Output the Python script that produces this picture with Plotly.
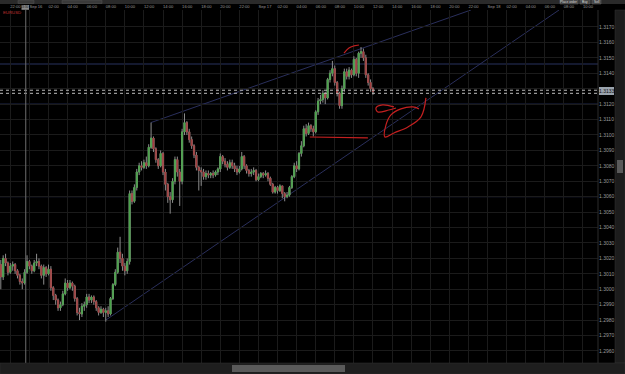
import pandas as pd
import plotly.graph_objects as go

# ---------------- data (15-minute candles) ----------------
start_time = "2013-09-15 21:00"
first_open = 1.3016
closes = [1.3008,1.3020,1.3017,1.3011,1.3015,1.3016,1.3012,1.3009,1.3005,1.3004,
          1.3011,1.3018,1.3015,1.3012,1.3017,1.3018,1.3015,1.3009,1.3014,1.3010,
          1.3013,1.3001,1.2996,1.2993,1.2988,1.2990,1.2997,1.3004,1.3001,1.3004,
          1.3002,1.2994,1.2985,1.2984,1.2989,1.2990,1.2995,1.2993,1.2995,1.2992,
          1.2988,1.2985,1.2987,1.2985,1.2986,1.2984,1.2994,1.3003,1.3011,1.3024,
          1.3020,1.3015,1.3012,1.3018,1.3062,1.3057,1.3066,1.3076,1.3080,1.3079,
          1.3082,1.3080,1.3092,1.3098,1.3091,1.3084,1.3080,1.3088,1.3076,1.3068,
          1.3060,1.3058,1.3070,1.3084,1.3076,1.3070,1.3102,1.3108,1.3102,1.3097,
          1.3093,1.3087,1.3079,1.3077,1.3076,1.3073,1.3075,1.3074,1.3075,1.3074,
          1.3076,1.3078,1.3086,1.3083,1.3081,1.3079,1.3082,1.3080,1.3078,1.3076,
          1.3078,1.3086,1.3080,1.3077,1.3075,1.3076,1.3077,1.3071,1.3073,1.3075,
          1.3074,1.3075,1.3072,1.3068,1.3063,1.3066,1.3064,1.3067,1.3062,1.3060,
          1.3061,1.3066,1.3073,1.3080,1.3078,1.3088,1.3093,1.3104,1.3101,1.3106,
          1.3104,1.3102,1.3115,1.3122,1.3123,1.3127,1.3124,1.3136,1.3140,1.3143,
          1.3134,1.3127,1.3119,1.3130,1.3141,1.3138,1.3142,1.3139,1.3149,1.3140,
          1.3153,1.3154,1.3150,1.3139,1.3134,1.3130,1.3128]
highs = [1.3019,1.3022,1.3023,1.3018,1.3017,1.3018,1.3017,1.3013,1.3010,1.3007,
         1.3013,1.3022,1.3019,1.3016,1.3019,1.3023,1.3020,1.3016,1.3016,1.3015,
         1.3016,1.3015,1.3002,1.2997,1.2994,1.2992,1.2999,1.3007,1.3006,1.3006,
         1.3005,1.3003,1.2995,1.2988,1.2991,1.2992,1.2997,1.2997,1.2996,1.2996,
         1.2993,1.2989,1.2989,1.2988,1.2988,1.2989,1.2995,1.3004,1.3013,1.3027,
         1.3034,1.3023,1.3017,1.3020,1.3064,1.3064,1.3068,1.3078,1.3082,1.3083,
         1.3084,1.3086,1.3094,1.3108,1.3099,1.3092,1.3085,1.3090,1.3089,1.3078,
         1.3069,1.3063,1.3072,1.3086,1.3086,1.3078,1.3104,1.3114,1.3109,1.3104,
         1.3099,1.3094,1.3089,1.3080,1.3079,1.3078,1.3077,1.3077,1.3076,1.3077,
         1.3077,1.3079,1.3088,1.3087,1.3085,1.3083,1.3084,1.3084,1.3082,1.3080,
         1.3080,1.3089,1.3087,1.3081,1.3078,1.3078,1.3079,1.3078,1.3075,1.3076,
         1.3076,1.3077,1.3076,1.3073,1.3069,1.3067,1.3067,1.3068,1.3067,1.3063,
         1.3063,1.3067,1.3074,1.3082,1.3083,1.3089,1.3096,1.3106,1.3107,1.3108,
         1.3107,1.3106,1.3116,1.3124,1.3126,1.3129,1.3128,1.3137,1.3142,1.3148,
         1.3145,1.3135,1.3128,1.3132,1.3143,1.3143,1.3144,1.3143,1.3151,1.3150,
         1.3154,1.3157,1.3156,1.3152,1.3140,1.3136,1.3131]
lows = [1.3000,1.3006,1.3015,1.3009,1.3010,1.3012,1.3010,1.3007,1.3003,1.3000,
        1.3003,1.3010,1.3013,1.3010,1.3011,1.3015,1.3013,1.3007,1.3003,1.3008,
        1.3009,1.2999,1.2993,1.2990,1.2986,1.2986,1.2989,1.2996,1.2999,1.3000,
        1.2999,1.2992,1.2983,1.2980,1.2982,1.2986,1.2988,1.2991,1.2991,1.2990,
        1.2986,1.2983,1.2984,1.2982,1.2979,1.2982,1.2983,1.2993,1.3002,1.3010,
        1.3017,1.3012,1.3009,1.3010,1.3016,1.3055,1.3056,1.3064,1.3074,1.3077,
        1.3078,1.3078,1.3079,1.3091,1.3089,1.3082,1.3078,1.3079,1.3074,1.3064,
        1.3056,1.3049,1.3056,1.3068,1.3073,1.3054,1.3068,1.3100,1.3100,1.3095,
        1.3091,1.3085,1.3077,1.3064,1.3067,1.3071,1.3071,1.3072,1.3072,1.3072,
        1.3073,1.3074,1.3076,1.3081,1.3079,1.3077,1.3078,1.3078,1.3076,1.3074,
        1.3075,1.3077,1.3078,1.3075,1.3073,1.3073,1.3074,1.3070,1.3070,1.3072,
        1.3072,1.3073,1.3070,1.3067,1.3062,1.3062,1.3062,1.3063,1.3059,1.3057,
        1.3059,1.3060,1.3065,1.3072,1.3076,1.3077,1.3086,1.3092,1.3099,1.3100,
        1.3102,1.3099,1.3101,1.3113,1.3120,1.3121,1.3120,1.3123,1.3134,1.3138,
        1.3132,1.3125,1.3117,1.3117,1.3128,1.3136,1.3136,1.3137,1.3138,1.3138,
        1.3137,1.3150,1.3148,1.3137,1.3132,1.3128,1.3126]

# time axis ticks
time_ticks = pd.date_range("2013-09-15 22:00", "2013-09-18 10:00", freq="2h")
time_labels = ["22:00","Sep 16","02:00","04:00","06:00","08:00","10:00","12:00","14:00",
               "16:00","18:00","20:00","22:00","Sep 17","02:00","04:00","06:00","08:00",
               "10:00","12:00","14:00","16:00","18:00","20:00","22:00","Sep 18","02:00",
               "04:00","06:00","08:00","10:00"]
price_ticks = [1.2960,1.2970,1.2980,1.2990,1.3000,1.3010,1.3020,1.3030,1.3040,1.3050,
               1.3060,1.3070,1.3080,1.3090,1.3100,1.3110,1.3120,1.3130,1.3140,1.3150,
               1.3160,1.3170]
current_price_label = "1.3133"
crosshair_time = "2013-09-15 23:37"
crosshair_label = "23:30"

# drawn objects (chart drawings)
upper_trend = (["2013-09-16 12:43", "2013-09-17 22:16"], [1.3108, 1.3181])
lower_trend = (["2013-09-16 08:00", "2013-09-18 07:30"], [1.2980, 1.3181])
h_lines = [1.3146, 1.3120, 1.3060]
bid_ask = [1.3129, 1.3127]
red_arc = (["2013-09-17 08:58","2013-09-17 09:29","2013-09-17 10:00","2013-09-17 10:32"],
           [1.31531,1.31564,1.31577,1.31583])
red_level = (["2013-09-17 05:23","2013-09-17 11:28"], [1.30987,1.30981])
red_loop = (["2013-09-17 14:12","2013-09-17 13:00","2013-09-17 12:19","2013-09-17 12:31",
             "2013-09-17 13:40","2013-09-17 14:25"],
            [1.31182,1.31195,1.31175,1.31149,1.31162,1.31175])
red_swoosh = (["2013-09-17 17:33","2013-09-17 17:02","2013-09-17 15:40","2013-09-17 14:12",
               "2013-09-17 13:15","2013-09-17 13:22","2013-09-17 13:53","2013-09-17 14:56",
               "2013-09-17 16:11","2013-09-17 16:49"],
              [1.3124,1.31117,1.31052,1.31013,1.30987,1.31065,1.3113,1.31169,1.31182,1.31169])

# ---------------- build ----------------
times = pd.date_range(start_time, periods=len(closes), freq="15min")
opens = [first_open] + closes[:-1]
highs = [max(h, o, c) for h, o, c in zip(highs, opens, closes)]
lows = [min(l, o, c) for l, o, c in zip(lows, opens, closes)]
body_hi = [max(o, c) for o, c in zip(opens, closes)]
body_lo = [min(o, c) for o, c in zip(opens, closes)]
# the highlighted current-price box hides the tick label beneath it
price_labels = ["" if abs(p - 1.3130) < 1e-9 else "%.4f" % p for p in price_ticks]

GREEN = "#4aa64a"
RED = "#a53f3f"
WICK = "#8c8c8c"

fig = go.Figure()
fig.add_trace(go.Candlestick(
    x=times, open=opens, high=highs, low=lows, close=closes,
    increasing=dict(line=dict(color=WICK, width=1), fillcolor=WICK),
    decreasing=dict(line=dict(color=WICK, width=1), fillcolor=WICK),
    hoverinfo="skip", showlegend=False))
fig.add_trace(go.Candlestick(
    x=times, open=opens, high=body_hi, low=body_lo, close=closes,
    increasing=dict(line=dict(color=GREEN, width=0.6), fillcolor=GREEN),
    decreasing=dict(line=dict(color=RED, width=0.6), fillcolor=RED),
    hoverinfo="skip", showlegend=False))

for xs, ys in [red_arc, red_level, red_loop, red_swoosh]:
    fig.add_trace(go.Scatter(x=xs, y=ys, mode="lines", line=dict(color="#c42020", width=1.2,
                             shape="spline"), hoverinfo="skip", showlegend=False))

shapes = []
for lvl in h_lines:
    shapes.append(dict(type="line", xref="paper", x0=0, x1=1, yref="y", y0=lvl, y1=lvl,
                       line=dict(color="#28325e", width=1), layer="below"))
for lvl in bid_ask:
    shapes.append(dict(type="line", xref="paper", x0=0, x1=1, yref="y", y0=lvl, y1=lvl,
                       line=dict(color="#bdbdbd", width=1, dash="dot")))
for xs, ys in [upper_trend, lower_trend]:
    shapes.append(dict(type="line", xref="x", yref="y", x0=xs[0], x1=xs[1], y0=ys[0], y1=ys[1],
                       line=dict(color="#2a2f5c", width=1), layer="below"))
# crosshair vertical line
shapes.append(dict(type="line", xref="x", yref="paper", x0=crosshair_time, x1=crosshair_time,
                   y0=0, y1=1.0, line=dict(color="#6e6e6e", width=1)))
# chrome: toolbar, price column, scrollbars
W = 598.0
H = 353.0
def px(x):
    return x / W
def py(y):
    return (363 - y) / H
shapes += [
    dict(type="rect", xref="paper", yref="paper", x0=px(0), x1=px(625), y0=py(4), y1=py(0),
         fillcolor="#2a2a2a", line=dict(width=0)),
    dict(type="rect", xref="paper", yref="paper", x0=px(18), x1=px(34), y0=py(3.5), y1=py(0.3),
         fillcolor="#3a3a3a", line=dict(color="#555", width=0.5)),
    dict(type="rect", xref="paper", yref="paper", x0=px(62), x1=px(102), y0=py(3.5), y1=py(0.3),
         fillcolor="#3a3a3a", line=dict(color="#555", width=0.5)),
    dict(type="rect", xref="paper", yref="paper", x0=px(560), x1=px(578), y0=py(4), y1=py(0),
         fillcolor="#444", line=dict(color="#666", width=0.5)),
    dict(type="rect", xref="paper", yref="paper", x0=px(580), x1=px(590), y0=py(4), y1=py(0),
         fillcolor="#444", line=dict(color="#666", width=0.5)),
    dict(type="rect", xref="paper", yref="paper", x0=px(592), x1=px(601), y0=py(4), y1=py(0),
         fillcolor="#444", line=dict(color="#666", width=0.5)),
    dict(type="line", xref="paper", yref="paper", x0=px(598), x1=px(598), y0=py(363), y1=py(10),
         line=dict(color="#2c2c2c", width=1)),
    dict(type="rect", xref="paper", yref="paper", x0=px(615), x1=px(625), y0=py(363), y1=py(10),
         fillcolor="#1c1c1c", line=dict(color="#333", width=0.5)),
    dict(type="rect", xref="paper", yref="paper", x0=px(617), x1=px(623), y0=py(173), y1=py(160),
         fillcolor="#5a5a5a", line=dict(width=0)),
    dict(type="rect", xref="paper", yref="paper", x0=px(0), x1=px(625), y0=py(374), y1=py(363),
         fillcolor="#1e1e1e", line=dict(color="#333", width=0.5)),
    dict(type="rect", xref="paper", yref="paper", x0=px(232), x1=px(345), y0=py(372), y1=py(365),
         fillcolor="#5a5a5a", line=dict(width=0)),
    # price highlight box and time highlight box
    dict(type="rect", xref="paper", yref="paper", x0=px(599), x1=px(614), y0=py(95), y1=py(87),
         fillcolor="#9aa3ad", line=dict(width=0)),
    dict(type="rect", xref="paper", yref="paper", x0=px(21.5), x1=px(29), y0=py(9.8), y1=py(5),
         fillcolor="#8a8a8a", line=dict(width=0)),
]

annotations = [
    dict(xref="paper", yref="paper", x=px(606.5), y=py(91), text=current_price_label, showarrow=False,
         font=dict(size=5, color="#111"), xanchor="center", yanchor="middle"),
    dict(xref="paper", yref="paper", x=px(25.3), y=py(7.4), text=crosshair_label, showarrow=False,
         font=dict(size=2.9, color="#111"), xanchor="center", yanchor="middle"),
    dict(xref="paper", yref="paper", x=px(1), y=py(12.5), text="EURUSD", showarrow=False,
         font=dict(size=4.3, color="#c03030"), xanchor="left", yanchor="middle"),
    dict(xref="paper", yref="paper", x=px(569), y=py(1.8), text="Place order", showarrow=False,
         font=dict(size=3.3, color="#ddd"), xanchor="center", yanchor="middle"),
    dict(xref="paper", yref="paper", x=px(585), y=py(1.8), text="Buy", showarrow=False,
         font=dict(size=3.3, color="#ddd"), xanchor="center", yanchor="middle"),
    dict(xref="paper", yref="paper", x=px(596.5), y=py(1.8), text="Sell", showarrow=False,
         font=dict(size=3.3, color="#ddd"), xanchor="center", yanchor="middle"),
]

fig.update_layout(
    width=625, height=374,
    margin=dict(l=0, r=27, t=10, b=11),
    paper_bgcolor="#000000", plot_bgcolor="#000000",
    font=dict(family="Liberation Sans, Arial", color="#a0a0a0", size=5),
    shapes=shapes, annotations=annotations,
    showlegend=False,
    xaxis=dict(type="date", side="top",
               range=["2013-09-15 20:55", "2013-09-18 11:35"],
               tickmode="array", tickvals=list(time_ticks), ticktext=time_labels,
               ticklabelposition="outside right", tickangle=0, ticklabelstandoff=0,
               showgrid=True, gridcolor="#1b1b1b", gridwidth=1,
               zeroline=False, showline=False, ticks="", tickfont=dict(size=4.1, color="#9a9a9a"),
               rangeslider=dict(visible=False), fixedrange=True),
    yaxis=dict(side="right", range=[1.29522, 1.3181],
               tickmode="array", tickvals=price_ticks, ticktext=price_labels,
               showgrid=True, gridcolor="#1b1b1b", gridwidth=1,
               zeroline=False, showline=False, ticks="", tickfont=dict(size=5, color="#9a9a9a"),
               fixedrange=True),
)

fig.write_html("out.html")
